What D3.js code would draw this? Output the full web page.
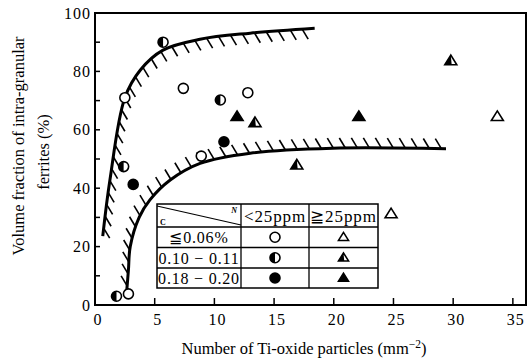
<!DOCTYPE html>
<html>
<head>
<meta charset="utf-8">
<script src="https://cdn.jsdelivr.net/npm/d3@7"></script>
<style>
  body { margin: 0; background: #fff; }
  svg { font-family: "Liberation Serif", "Times New Roman", serif; }
</style>
</head>
<body>
<script>
// data
var xTicks = [0, 5, 10, 15, 20, 25, 30, 35];
var yTicks = [0, 20, 40, 60, 80, 100];

// <25ppm, C <= 0.06%
var openCircleX = [2.5, 7.4, 12.8, 8.9, 2.8];
var openCircleY = [71, 74.2, 72.7, 51, 3.8];
// <25ppm, C 0.10-0.11
var halfCircleX = [5.7, 2.4, 10.5, 1.8];
var halfCircleY = [90, 47.4, 70.2, 3];
// <25ppm, C 0.18-0.20
var fullCircleX = [3.2, 10.8];
var fullCircleY = [41.3, 55.9];
// >=25ppm
var openTriX = [33.7, 24.8];
var openTriY = [64.5, 31.2];
var halfTriX = [13.4, 16.9, 29.8];
var halfTriY = [62.4, 47.9, 83.6];
var fullTriX = [11.9, 22.1];
var fullTriY = [64.5, 64.5];

// boundary curves
var upperX = [0.65, 1.25, 2.5, 3.8, 5.7, 8.8, 13, 18.4];
var upperY = [23.6, 42.8, 71, 80.5, 87.3, 91, 93.1, 94.8];
var lowerX = [2.65, 2.8, 2.95, 3.7, 4.6, 6.3, 8.8, 13, 19.9, 29.4];
var lowerY = [4.5, 12, 20, 30, 36, 42.8, 48.5, 52, 53.7, 53.5];

var legendRows = ["≦0.06%", "0.10 − 0.11", "0.18 − 0.20"];
var legendCols = ["<25ppm", "≧25ppm"];

var W = 527, H = 364;
var svg = d3.select("body").append("svg").attr("width", W).attr("height", H);

var x = d3.scaleLinear().domain([0, 36.1]).range([95, 526]);
var y = d3.scaleLinear().domain([0, 100]).range([305, 13]);

// frame
svg.append("rect")
  .attr("x", x(0)).attr("y", y(100))
  .attr("width", x(36.1) - x(0)).attr("height", y(0) - y(100))
  .attr("fill", "none").attr("stroke", "#000").attr("stroke-width", 2);

// ticks (inward)
svg.selectAll(".xt").data(xTicks.slice(1)).enter().append("line")
  .attr("x1", d => x(d)).attr("x2", d => x(d))
  .attr("y1", y(0)).attr("y2", y(0) - 7)
  .attr("stroke", "#000").attr("stroke-width", 1.5);
svg.selectAll(".yt").data(d3.range(10, 100, 10)).enter().append("line")
  .attr("x1", x(0)).attr("x2", x(0) + 5)
  .attr("y1", d => y(d)).attr("y2", d => y(d))
  .attr("stroke", "#000").attr("stroke-width", 1.5);

svg.selectAll(".xl").data(xTicks).enter().append("text")
  .attr("x", d => x(d) + 3).attr("y", 325)
  .attr("text-anchor", "middle").attr("font-size", 16).attr("letter-spacing", 1)
  .text(d => d);
svg.selectAll(".yl").data(yTicks).enter().append("text")
  .attr("x", 91).attr("y", d => y(d) + 5.5)
  .attr("text-anchor", "end").attr("font-size", 16).attr("letter-spacing", 1)
  .text(d => d);

svg.append("text").attr("x", 304).attr("y", 354)
  .attr("text-anchor", "middle").attr("font-size", 16.5)
  .html('Number of Ti-oxide particles (mm<tspan dy="-6" font-size="11.5">−2</tspan><tspan dy="6">)</tspan>');

var yt = svg.append("g").attr("transform", "translate(0,146) rotate(-90)");
yt.append("text").attr("x", 0).attr("y", 24).attr("text-anchor", "middle")
  .attr("font-size", 16.5).text("Volume fraction of intra-granular");
yt.append("text").attr("x", -6).attr("y", 49).attr("text-anchor", "middle")
  .attr("font-size", 16.5).text("ferrites (%)");

// curves with hatching
var line = d3.line().x(d => x(d[0])).y(d => y(d[1])).curve(d3.curveCatmullRom);

function boundary(xs, ys, dx, dy, start) {
  var pts = xs.map((v, i) => [v, ys[i]]);
  var p = svg.append("path").attr("d", line(pts))
    .attr("fill", "none").attr("stroke", "#000").attr("stroke-width", 3);
  var node = p.node(), L = node.getTotalLength();
  var hatch = [];
  for (var s = start; s < L - 2; s += 12) hatch.push(node.getPointAtLength(s));
  svg.selectAll(null).data(hatch).enter().append("line")
    .attr("x1", d => d.x).attr("y1", d => d.y)
    .attr("x2", d => d.x + dx).attr("y2", d => d.y + dy)
    .attr("stroke", "#000").attr("stroke-width", 1.6);
}
boundary(upperX, upperY, 6, 10, 8);
boundary(lowerX, lowerY, -6, -10, 6);

// markers
function circles(xs, ys, kind) {
  xs.forEach(function(v, i) { circleAt(x(v), y(ys[i]), 5, kind); });
}
function circleAt(cx, cy, r, kind) {
  svg.append("circle").attr("cx", cx).attr("cy", cy).attr("r", r)
    .attr("fill", kind === "full" ? "#000" : "#fff")
    .attr("stroke", "#000").attr("stroke-width", 1.6);
  if (kind === "half") {
    svg.append("path")
      .attr("d", "M" + cx + "," + (cy - r) + "A" + r + "," + r + " 0 0 0 " + cx + "," + (cy + r) + "Z")
      .attr("fill", "#000");
  }
}
function tris(xs, ys, kind) {
  xs.forEach(function(v, i) { triAt(x(v), y(ys[i]), 6, kind); });
}
function triAt(cx, cy, s, kind) {
  var h = s * 1.6;
  var top = [cx, cy - h * 0.6], bl = [cx - s, cy + h * 0.4], br = [cx + s, cy + h * 0.4];
  svg.append("path").attr("d", "M" + top + "L" + bl + "L" + br + "Z")
    .attr("fill", kind === "full" ? "#000" : "#fff")
    .attr("stroke", "#000").attr("stroke-width", 1.6).attr("stroke-linejoin", "miter");
  if (kind === "half") {
    svg.append("path").attr("d", "M" + top + "L" + bl + "L" + [cx + s * 0.15, cy + h * 0.4] + "Z")
      .attr("fill", "#000");
  }
}

circles(openCircleX, openCircleY, "open");
circles(halfCircleX, halfCircleY, "half");
circles(fullCircleX, fullCircleY, "full");
tris(openTriX, openTriY, "open");
tris(halfTriX, halfTriY, "half");
tris(fullTriX, fullTriY, "full");

// legend table
var colX = [157, 241, 309, 378];
var rowY = [204, 227, 247.5, 268, 288];
var lg = svg.append("g");
lg.append("rect").attr("x", colX[0]).attr("y", rowY[0])
  .attr("width", colX[3] - colX[0]).attr("height", rowY[4] - rowY[0])
  .attr("fill", "#fff").attr("stroke", "#000").attr("stroke-width", 1.5);
colX.slice(1, 3).forEach(c => lg.append("line").attr("x1", c).attr("x2", c)
  .attr("y1", rowY[0]).attr("y2", rowY[4]).attr("stroke", "#000").attr("stroke-width", 1.3));
rowY.slice(1, 4).forEach(r => lg.append("line").attr("x1", colX[0]).attr("x2", colX[3])
  .attr("y1", r).attr("y2", r).attr("stroke", "#000").attr("stroke-width", 1.3));
lg.append("line").attr("x1", colX[0]).attr("y1", rowY[0] + 2)
  .attr("x2", colX[1]).attr("y2", rowY[1] - 2).attr("stroke", "#000").attr("stroke-width", 1.2);
lg.append("text").attr("x", colX[1] - 4).attr("y", rowY[0] + 9)
  .attr("text-anchor", "end").attr("font-size", 8).attr("font-style", "italic")
  .attr("font-weight", "bold").text("N");
lg.append("text").attr("x", colX[0] + 3).attr("y", rowY[1] - 2)
  .attr("font-size", 8).attr("font-weight", "bold").text("C");
legendCols.forEach(function(t, i) {
  lg.append("text").attr("x", (colX[i + 1] + colX[i + 2]) / 2).attr("y", rowY[1] - 5)
    .attr("text-anchor", "middle").attr("font-size", 17).attr("letter-spacing", 0.9).text(t);
});
legendRows.forEach(function(t, i) {
  lg.append("text").attr("x", (colX[0] + colX[1]) / 2).attr("y", rowY[i + 2] - 4.5)
    .attr("text-anchor", "middle").attr("font-size", 16).attr("letter-spacing", 0.8).text(t);
});
var kinds = ["open", "half", "full"];
kinds.forEach(function(k, i) {
  var cy = (rowY[i + 1] + rowY[i + 2]) / 2;
  circleAt((colX[1] + colX[2]) / 2, cy, 5, k);
  triAt((colX[2] + colX[3]) / 2, cy, 5, k);
});
</script>
</body>
</html>
